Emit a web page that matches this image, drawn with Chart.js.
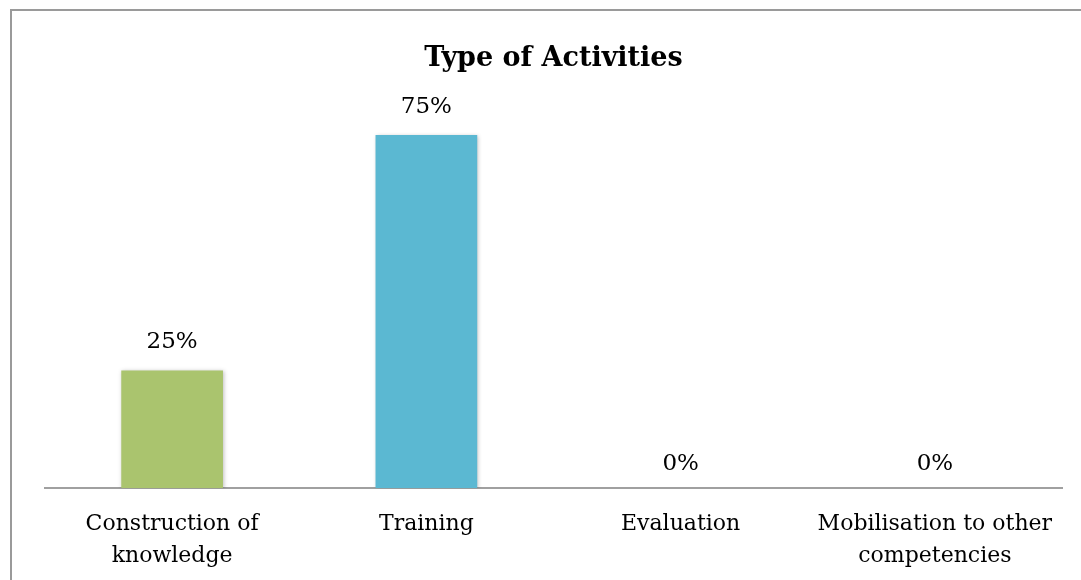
<!DOCTYPE html>
<html>
<head>
<meta charset="utf-8">
<script src="https://cdn.jsdelivr.net/npm/chart.js@4"></script>
<style>
  html, body { margin: 0; padding: 0; background: #fff; }
  #wrap { width: 1081px; height: 580px; position: relative; overflow: hidden; }
</style>
</head>
<body>
<div id="wrap"><canvas id="activity-chart" width="1081" height="596"></canvas></div>
<script>
'use strict';
var categories = [
  ['Construction of', 'knowledge'],
  'Training',
  'Evaluation',
  ['Mobilisation to other', 'competencies']
];
var shares = [0.25, 0.75, 0, 0];
var barColors = ['#AAC46E', '#5BB8D2', '#4F81BD', '#F79646'];
var yMax = 0.8;
var serif = '"DejaVu Serif", "Liberation Serif", serif';

// frame of the chart object (top and left edges are visible in the crop)
var framePlugin = {
  id: 'frame',
  beforeDraw: function(chart) {
    var ctx = chart.ctx;
    ctx.save();
    ctx.fillStyle = '#ffffff';
    ctx.fillRect(0, 0, chart.width, chart.height);
    ctx.strokeStyle = '#9a9a9a';
    ctx.lineWidth = 2;
    ctx.beginPath();
    ctx.moveTo(11, chart.height);
    ctx.lineTo(11, 10);
    ctx.lineTo(chart.width, 10);
    ctx.stroke();
    ctx.restore();
  }
};

var shadowPlugin = {
  id: 'barShadow',
  beforeDatasetDraw: function(chart) {
    var ctx = chart.ctx;
    ctx.save();
    ctx.shadowColor = 'rgba(0,0,0,0.25)';
    ctx.shadowBlur = 4;
    ctx.shadowOffsetX = 1;
    ctx.shadowOffsetY = 1;
  },
  afterDatasetDraw: function(chart) {
    chart.ctx.restore();
  }
};

var valueLabels = {
  id: 'valueLabels',
  afterDatasetsDraw: function(chart) {
    var ctx = chart.ctx;
    var meta = chart.getDatasetMeta(0);
    ctx.save();
    ctx.font = '23px ' + serif;
    ctx.fillStyle = '#000';
    ctx.textAlign = 'center';
    ctx.textBaseline = 'middle';
    meta.data.forEach(function(bar, i) {
      var txt = Math.round(shares[i] * 100) + '%';
      var off = shares[i] > 0 ? 28 : 24;
      ctx.fillText(txt, bar.x, bar.y - off);
    });
    ctx.restore();
  }
};

var ctx = document.getElementById('activity-chart');
new Chart(ctx, {
  type: 'bar',
  data: {
    labels: categories,
    datasets: [{
      label: 'Type of Activities',
      data: shares,
      backgroundColor: barColors,
      borderWidth: 0,
      barPercentage: 0.4,
      categoryPercentage: 1
    }]
  },
  options: {
    responsive: false,
    animation: false,
    layout: { padding: { left: 45, right: 19, top: 0, bottom: 4 } },
    plugins: {
      legend: { display: false },
      tooltip: { enabled: false },
      title: {
        display: true,
        text: 'Type of Activities',
        color: '#000',
        font: { family: serif, size: 27, weight: 'bold', lineHeight: 1.2 },
        padding: { top: 43, bottom: 36 }
      }
    },
    scales: {
      x: {
        grid: { display: false, drawTicks: false },
        border: { display: true, color: '#a0a0a0', width: 2 },
        ticks: {
          color: '#000',
          padding: 20,
          maxRotation: 0,
          autoSkip: false,
          font: { family: serif, size: 22, lineHeight: 1.45 }
        }
      },
      y: {
        display: false,
        min: 0,
        max: yMax
      }
    }
  },
  plugins: [framePlugin, shadowPlugin, valueLabels]
});
</script>
</body>
</html>
